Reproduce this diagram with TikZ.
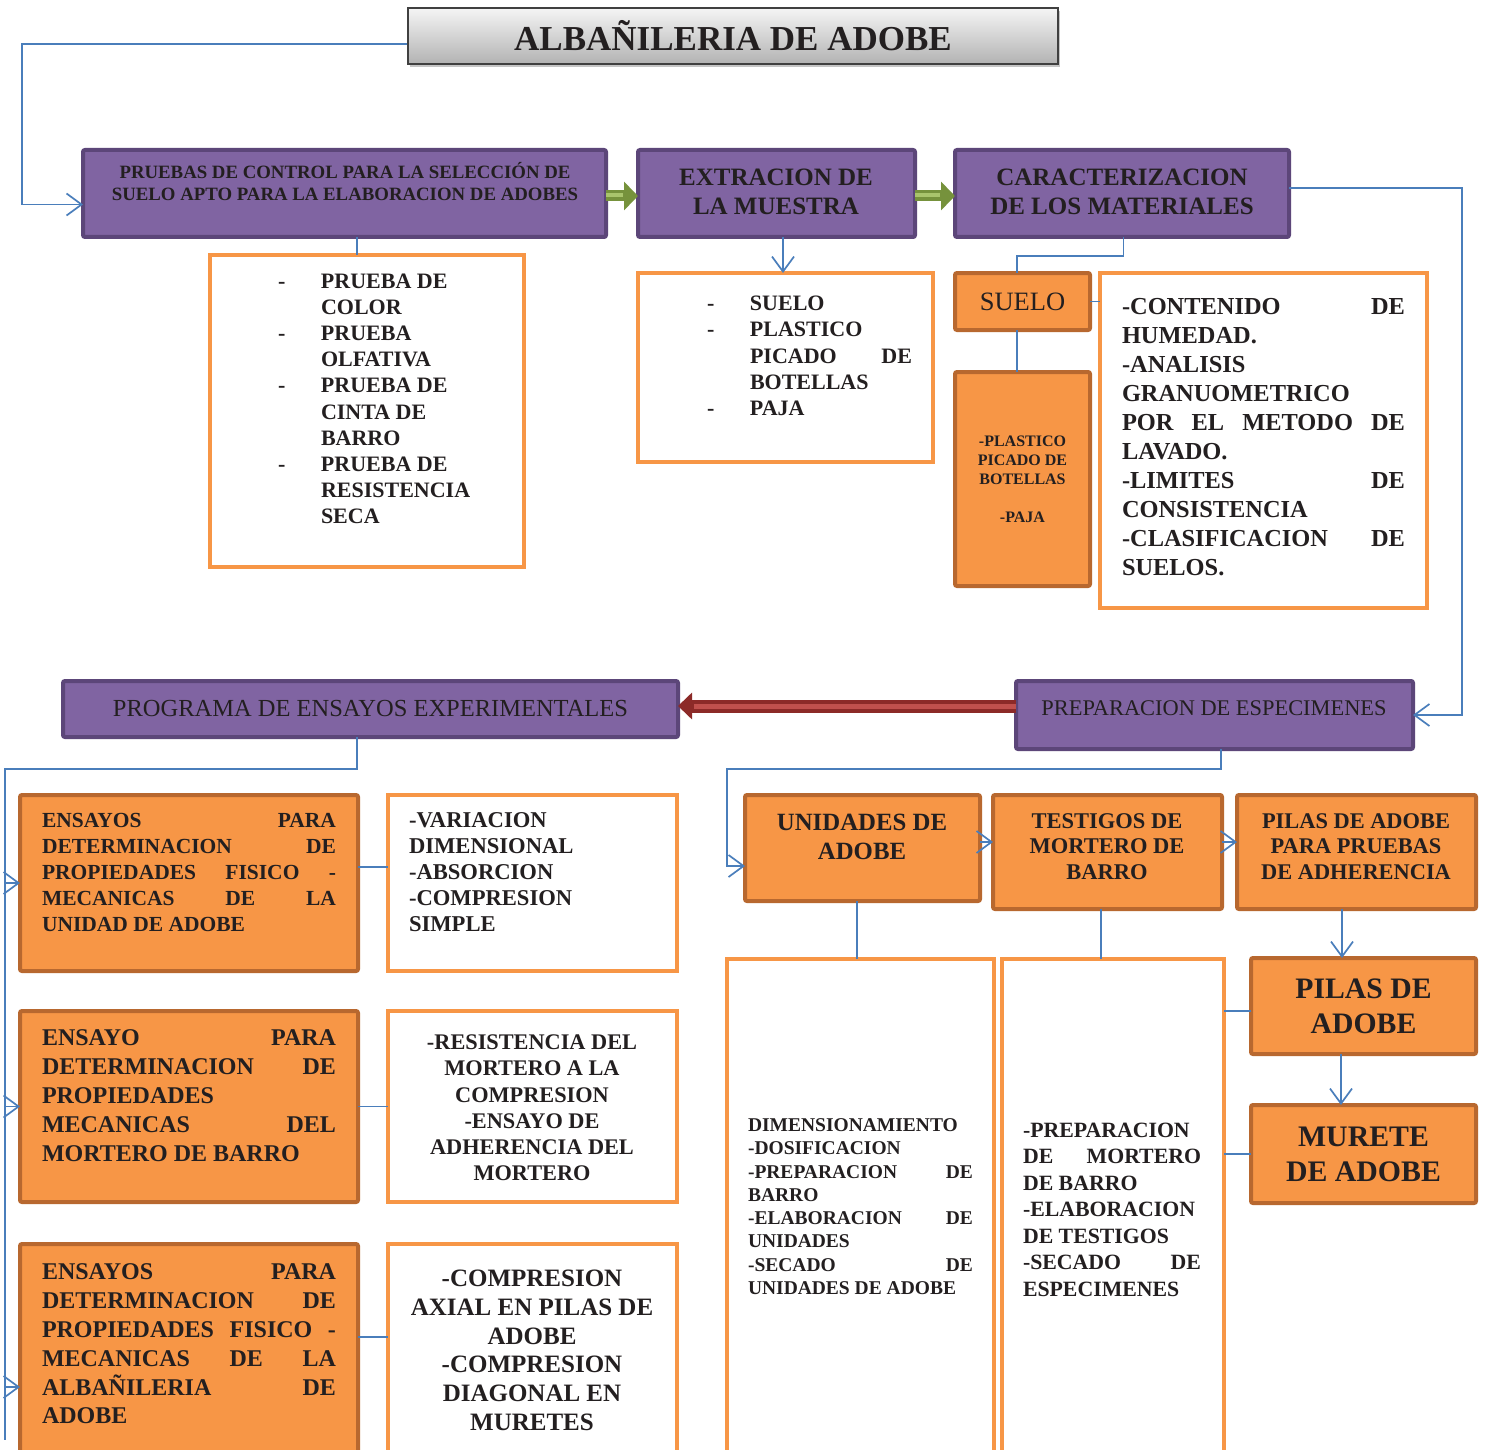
\documentclass[tikz,border=0pt]{standalone}
\usepackage{fontspec}
\setmainfont{Liberation Serif}
\usetikzlibrary{arrows.meta,shadows,calc}
\definecolor{pfill}{HTML}{8064A2}
\definecolor{pdraw}{HTML}{5C4679}
\definecolor{ofill}{HTML}{F79646}
\definecolor{odraw}{HTML}{B8682F}
\definecolor{conn}{HTML}{4A7EBB}
\definecolor{gdark}{HTML}{76923C}
\definecolor{glight}{HTML}{A9C46C}
\definecolor{rdark}{HTML}{8C2A28}
\definecolor{rlight}{HTML}{C0504D}
\definecolor{ink}{HTML}{231F20}
\newcommand\fsz[2]{\fontsize{#1}{#2}\selectfont}
\newcommand\bx[7]{\node[#1, minimum width={#5-#3}, minimum height={#6-#4}] (#2) at ({(#3+#5)/2},{(#4+#6)/2}) {#7};}
\newcommand\dsh{\makebox[43pt][l]{-}}
\newcommand\ind{\hspace*{43pt}}
\tikzset{
  base/.style={inner sep=0pt, outer sep=0pt, text=ink, font=\bfseries},
  pbox/.style={base, draw=pdraw, fill=pfill, line width=4pt, rounded corners=2pt},
  obox/.style={base, draw=odraw, fill=ofill, line width=4pt, rounded corners=2pt},
  wbox/.style={base, draw=ofill, fill=white, line width=4pt},
  txt/.style={inner sep=0pt, outer sep=0pt, text=ink},
  titlebox/.style={draw=black!75, line width=1.5pt, top color=black!4, bottom color=black!30,
     drop shadow={shadow xshift=2pt, shadow yshift=-3pt, opacity=0.45},
     text=ink, font=\bfseries\fsz{35}{40}, inner sep=0pt},
  cn/.style={draw=conn, line width=1.7pt},
  cna/.style={cn, -{Straight Barb[length=15pt,width=22pt,line width=1.7pt]}},
  garrow/.style={draw=gdark, line width=11pt, -{Triangle[length=14pt,width=28pt]}},
  rarrow/.style={draw=rdark, line width=13pt, -{Triangle[length=14pt,width=26pt]}},
}
\begin{document}
\begin{tikzpicture}[x=1pt,y=-1pt]
\useasboundingbox (0,0) rectangle (1486,1450);
\clip (0,0) rectangle (1486,1450);
\fill[white] (0,0) rectangle (1486,1450);

% title
\node[titlebox, minimum width=650, minimum height=56] (title) at (733,36) {ALBAÑILERIA DE ADOBE};

% top row of purple boxes
\bx{pbox}{b1}{83}{150}{606}{237}{}
\node[txt, align=center, font=\bfseries\fsz{18.8}{22}, anchor=north] (b1t) at (345,162) {PRUEBAS DE CONTROL PARA LA SELECCIÓN DE\\SUELO APTO PARA LA ELABORACION DE ADOBES};
\bx{pbox}{b2}{638}{150}{915}{237}{}
\node[txt, align=center, font=\bfseries\fsz{25}{29}, anchor=north] (b2t) at (776,169) {EXTRACION DE\\LA MUESTRA};
\bx{pbox}{b3}{955}{150}{1289}{237}{}
\node[txt, align=center, font=\bfseries\fsz{25}{29}, anchor=north] (b3t) at (1122,169) {CARACTERIZACION\\DE LOS MATERIALES};

% second row
\bx{wbox}{w4}{210}{255}{524}{567}{}
\node[txt, align=left, font=\bfseries\fsz{22}{26.1}, anchor=north west] (w4t) at (278,274)
 {\dsh PRUEBA DE\\\ind COLOR\\\dsh PRUEBA\\\ind OLFATIVA\\\dsh PRUEBA DE\\\ind CINTA DE\\\ind BARRO\\\dsh PRUEBA DE\\\ind RESISTENCIA\\\ind SECA};
\bx{wbox}{w5}{638}{273}{933}{462}{}
\node[txt, align=left, font=\bfseries\fsz{22}{26.3}, anchor=north west] (w5t) at (707,296)
 {\dsh SUELO\\\dsh PLASTICO\\\ind\makebox[162pt][s]{PICADO DE}\\\ind BOTELLAS\\\dsh PAJA};
\bx{obox, font=\fsz{26.5}{30}}{s1}{955}{273}{1090}{330}{SUELO}
\bx{obox, font=\bfseries\fsz{16}{19}, align=center}{p2}{955}{372}{1090}{586}{-PLASTICO\\PICADO DE\\BOTELLAS\\\mbox{}\\-PAJA}
\bx{wbox}{r1}{1100}{273}{1427}{608}{}
\node[txt, align=left, font=\bfseries\fsz{24.4}{29}, anchor=north west] (r1t) at (1122,298)
 {\makebox[283pt][s]{-CONTENIDO DE}\\HUMEDAD.\\-ANALISIS\\GRANUOMETRICO\\\makebox[283pt][s]{POR EL METODO DE}\\LAVADO.\\\makebox[283pt][s]{-LIMITES DE}\\CONSISTENCIA\\\makebox[283pt][s]{-CLASIFICACION DE}\\SUELOS.};

% middle row
\bx{pbox, font=\fsz{24.5}{28}}{prog}{63}{681}{678}{737}{PROGRAMA DE ENSAYOS EXPERIMENTALES}
\bx{pbox}{prep}{1016}{681}{1413}{749}{}
\node[txt, font=\fsz{22.4}{26}, anchor=base] (prept) at (1214,715) {PREPARACION DE ESPECIMENES};

% left column
\bx{obox}{L1}{20}{795}{358}{971}{}
\node[txt, align=left, font=\bfseries\fsz{21.5}{26}, anchor=north west] (L1t) at (42,813)
 {\makebox[294pt][s]{ENSAYOS PARA}\\\makebox[294pt][s]{DETERMINACION DE}\\\makebox[294pt][s]{PROPIEDADES FISICO -}\\\makebox[294pt][s]{MECANICAS DE LA}\\UNIDAD DE ADOBE};
\bx{obox}{L2}{20}{1011}{358}{1202}{}
\node[txt, align=left, font=\bfseries\fsz{24}{29}, anchor=north west] (L2t) at (42,1030)
 {\makebox[294pt][s]{ENSAYO PARA}\\\makebox[294pt][s]{DETERMINACION DE}\\PROPIEDADES\\\makebox[294pt][s]{MECANICAS DEL}\\MORTERO DE BARRO};
\bx{obox}{L3}{20}{1244}{358}{1470}{}
\node[txt, align=left, font=\bfseries\fsz{24}{28.8}, anchor=north west] (L3t) at (42,1264)
 {\makebox[294pt][s]{ENSAYOS PARA}\\\makebox[294pt][s]{DETERMINACION DE}\\\makebox[294pt][s]{PROPIEDADES FISICO -}\\\makebox[294pt][s]{MECANICAS DE LA}\\\makebox[294pt][s]{ALBAÑILERIA DE}\\ADOBE};

\bx{wbox}{W1}{388}{795}{677}{971}{}
\node[txt, align=left, font=\bfseries\fsz{22.6}{26}, anchor=north west] (W1t) at (409,813)
 {-VARIACION\\DIMENSIONAL\\-ABSORCION\\-COMPRESION\\SIMPLE};
\bx{wbox}{W2}{388}{1011}{677}{1202}{}
\node[txt, align=center, font=\bfseries\fsz{22.3}{26.2}, anchor=north] (W2t) at (532,1035)
 {-RESISTENCIA DEL\\MORTERO A LA\\COMPRESION\\-ENSAYO DE\\ADHERENCIA DEL\\MORTERO};
\bx{wbox}{W3}{388}{1244}{677}{1470}{}
\node[txt, align=center, font=\bfseries\fsz{25}{28.8}, anchor=north] (W3t) at (532,1270)
 {-COMPRESION\\AXIAL EN PILAS DE\\ADOBE\\-COMPRESION\\DIAGONAL EN\\MURETES};

% right part
\bx{obox}{U1}{745}{795}{980}{901}{}
\node[txt, align=center, font=\bfseries\fsz{24.8}{29}, anchor=north] (U1t) at (862,814) {UNIDADES DE\\ADOBE};
\bx{obox}{T1}{993}{795}{1222}{909}{}
\node[txt, align=center, font=\bfseries\fsz{22.5}{25.5}, anchor=north] (T1t) at (1107,813.5) {TESTIGOS DE\\MORTERO DE\\BARRO};
\bx{obox}{P1}{1237}{795}{1476}{909}{}
\node[txt, align=center, font=\bfseries\fsz{22.4}{25.5}, anchor=north] (P1t) at (1356,813.5) {PILAS DE ADOBE\\PARA PRUEBAS\\DE ADHERENCIA};

\bx{wbox}{UW}{727}{959}{994}{1470}{}
\node[txt, align=left, font=\bfseries\fsz{19.5}{23.3}, anchor=north west] (UWt) at (748,1118.5)
 {DIMENSIONAMIENTO\\-DOSIFICACION\\\makebox[225pt][s]{-PREPARACION DE}\\BARRO\\\makebox[225pt][s]{-ELABORACION DE}\\UNIDADES\\\makebox[225pt][s]{-SECADO DE}\\UNIDADES DE ADOBE};
\bx{wbox}{TW}{1002}{959}{1224}{1470}{}
\node[txt, align=left, font=\bfseries\fsz{21.8}{26.5}, anchor=north west] (TWt) at (1023,1123)
 {-PREPARACION\\\makebox[178pt][s]{DE MORTERO}\\DE BARRO\\-ELABORACION\\DE TESTIGOS\\\makebox[178pt][s]{-SECADO DE}\\ESPECIMENES};

\bx{obox, font=\bfseries\fsz{29.7}{35}, align=center}{PA}{1251}{958}{1476}{1054}{PILAS DE\\ADOBE}
\bx{obox, font=\bfseries\fsz{29.8}{35}, align=center}{MA}{1251}{1105}{1476}{1203}{MURETE\\DE ADOBE}

% coordinates for elbows
\coordinate (cTL) at (22,44);
\coordinate (cR) at (1462,715);
\coordinate (lvTop) at (5,769);
\coordinate (lvBot) at (5,1440);
\coordinate (rv) at (727,769);

% connectors
\draw[cna] ([yshift=-8pt]title.west) -- (cTL) |- ([yshift=-11pt]b1.west);
\draw[cn] ([xshift=12.5pt]b1.south) -- ([xshift=12.5pt]b1.south |- w4.north);
\draw[cna] ([xshift=6.5pt]b2.south) -- ([xshift=6.5pt]b2.south |- w5.north);
\draw[cn] ([xshift=1.5pt]b3.south) -- ++(0,19) -| ([xshift=-5.5pt]s1.north);
\draw[cn] (s1.east) -- (s1.east -| r1.west);
\draw[cn] ([xshift=-5.5pt]s1.south) -- ([xshift=-5.5pt]s1.south |- p2.north);
\draw[cna] ([yshift=5.5pt]b3.east) -| (cR) -- (prep.east);

\draw[cn] ([xshift=-13.5pt]prog.south) |- (lvTop) -- (lvBot);
\draw[cna] (L1.west -| lvTop) -- (L1.west);
\draw[cna] (L2.west -| lvTop) -- (L2.west);
\draw[cna] ([yshift=-30pt]L3.west -| lvTop) -- ([yshift=-30pt]L3.west);
\draw[cn] ([yshift=16pt]L1.east) -- ([yshift=16pt]W1.west);
\draw[cn] (L2.east) -- (W2.west);
\draw[cn] ([yshift=20pt]L3.east) -- ([yshift=20pt]W3.west);

\draw[cna] ([xshift=6.5pt]prep.south) |- (rv) |- ([yshift=-18pt]U1.west);
\draw[cna] ([yshift=6pt]U1.east) -- ([yshift=6pt]U1.east -| T1.west);
\draw[cna] ([yshift=10pt]T1.east) -- ([yshift=10pt]T1.east -| P1.west);
\draw[cn] ([xshift=-5.5pt]U1.south) -- ([xshift=-5.5pt]U1.south |- UW.north);
\draw[cn] ([xshift=-6.5pt]T1.south) -- ([xshift=-6.5pt]T1.south |- TW.north);
\draw[cna] ([xshift=-14.5pt]P1.south) -- ([xshift=-14.5pt]P1.south |- PA.north);
\draw[cna] ([xshift=-22.5pt]PA.south) -- ([xshift=-22.5pt]PA.south |- MA.north);
\draw[cn] ([yshift=-5pt]PA.west -| TW.east) -- ([yshift=-5pt]PA.west);
\draw[cn] (MA.west -| TW.east) -- (MA.west);

% block arrows
\draw[garrow] ([yshift=-2.5pt]b1.east) -- ([yshift=-2.5pt]b2.west);
\draw[glight, line width=3.5pt] ([yshift=-1.5pt]b1.east) -- ([shift={(-15,0)},yshift=-1.5pt]b2.west);
\draw[garrow] ([yshift=-2.5pt]b2.east) -- ([yshift=-2.5pt]b3.west);
\draw[glight, line width=3.5pt] ([yshift=-1.5pt]b2.east) -- ([shift={(-15,0)},yshift=-1.5pt]b3.west);
\draw[rarrow] ([yshift=9pt]prep.west) -- ([yshift=3pt]prog.east);
\draw[rlight, line width=5pt] ([yshift=9pt]prep.west) -- ([shift={(16,0)},yshift=3pt]prog.east);
\end{tikzpicture}
\end{document}
